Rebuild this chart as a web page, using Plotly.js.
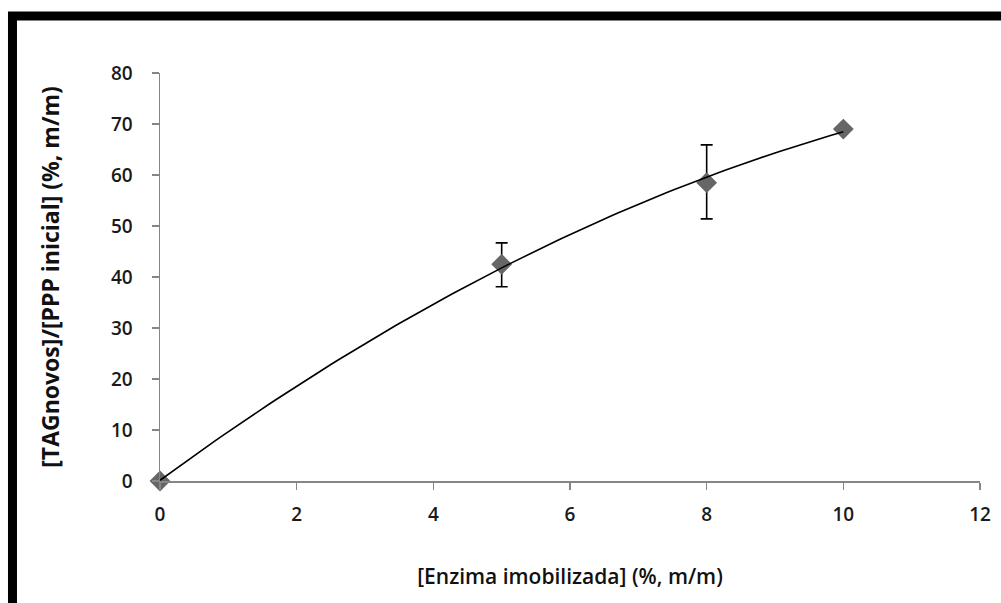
<!DOCTYPE html>
<html>
<head>
<meta charset="utf-8">
<script src="https://cdn.plot.ly/plotly-3.0.1.min.js"></script>
<style>
html,body{margin:0;padding:0;background:#fff;}
#chart{width:1001px;height:603px;}
</style>
</head>
<body>
<div id="chart"></div>
<script>
// Data
const enzima = [0, 5, 8, 10];
const tagRatio = [0, 42.5, 58.5, 69];
const errorPlus = [null, 4.2, 7.4, null];
const errorMinus = [null, 4.4, 7.1, null];
const xTickVals = [0, 2, 4, 6, 8, 10, 12];
const yTickVals = [0, 10, 20, 30, 40, 50, 60, 70, 80];
const xTitle = "[Enzima imobilizada] (%, m/m)";
const yTitle = "[TAGnovos]/[PPP inicial] (%, m/m)";

// Quadratic least-squares trendline (like the spreadsheet's polynomial trendline)
function polyFit2(xs, ys) {
  let S = [[0,0,0],[0,0,0],[0,0,0]], T = [0,0,0];
  for (let i = 0; i < xs.length; i++) {
    const p = [1, xs[i], xs[i]*xs[i]];
    for (let r = 0; r < 3; r++) {
      T[r] += p[r]*ys[i];
      for (let c = 0; c < 3; c++) S[r][c] += p[r]*p[c];
    }
  }
  const A = S.map((row, i) => row.concat([T[i]]));
  for (let i = 0; i < 3; i++) {
    let m = i;
    for (let k = i+1; k < 3; k++) if (Math.abs(A[k][i]) > Math.abs(A[m][i])) m = k;
    [A[i], A[m]] = [A[m], A[i]];
    for (let k = i+1; k < 3; k++) {
      const f = A[k][i]/A[i][i];
      for (let c = i; c < 4; c++) A[k][c] -= f*A[i][c];
    }
  }
  const coef = [0,0,0];
  for (let i = 2; i >= 0; i--) {
    let s = A[i][3];
    for (let c = i+1; c < 3; c++) s -= A[i][c]*coef[c];
    coef[i] = s/A[i][i];
  }
  return coef;
}
const cf = polyFit2(enzima, tagRatio);
const fitX = [], fitY = [];
const xmin = Math.min(...enzima), xmax = Math.max(...enzima);
for (let i = 0; i <= 100; i++) {
  const x = xmin + (xmax - xmin) * i / 100;
  fitX.push(x);
  fitY.push(cf[0] + cf[1]*x + cf[2]*x*x);
}

const traces = [
  {
    x: enzima, y: tagRatio, type: 'scatter', mode: 'markers',
    marker: {symbol: 'diamond', size: 16, color: '#666666'},
    error_y: {type: 'data', symmetric: false, array: errorPlus, arrayminus: errorMinus,
              color: '#000000', thickness: 1.6, width: 6},
    cliponaxis: false, hoverinfo: 'skip'
  },
  {
    x: fitX, y: fitY, type: 'scatter', mode: 'lines',
    line: {color: '#000000', width: 1.6},
    cliponaxis: false, hoverinfo: 'skip'
  }
];

const fam = 'Open Sans, Noto Sans, sans-serif';
const tickFont = {family: fam, size: 19, color: '#1a1a1a', weight: 600};

const layout = {
  width: 1001, height: 603,
  margin: {l: 160, r: 21, t: 73, b: 122},
  paper_bgcolor: '#ffffff', plot_bgcolor: '#ffffff',
  showlegend: false,
  xaxis: {
    range: [0, 12], tickvals: xTickVals, ticktext: xTickVals.map(String),
    showgrid: false, zeroline: false, showline: true, linecolor: '#868686', linewidth: 1.5,
    ticks: 'outside', ticklen: 7, tickcolor: '#868686', tickwidth: 1.5,
    ticklabelstandoff: 9,
    tickfont: tickFont,
    title: {text: xTitle, font: {family: fam, size: 21, color: '#111111', weight: 600}, standoff: 43}
  },
  yaxis: {
    range: [0, 80], tickvals: yTickVals, ticktext: yTickVals.map(String),
    showgrid: false, zeroline: false, showline: true, linecolor: '#868686', linewidth: 1.5,
    ticks: 'outside', ticklen: 7, tickcolor: '#868686', tickwidth: 1.5,
    ticklabelstandoff: 15,
    tickfont: tickFont,
    title: {text: yTitle, font: {family: fam, size: 23, color: '#111111', weight: 700}, standoff: 45}
  },
  shapes: [
    {type: 'rect', xref: 'paper', yref: 'paper',
     x0: -0.1799, x1: 1.5, y0: -0.8, y1: 1.1397,
     line: {color: '#000000', width: 9}, fillcolor: 'rgba(0,0,0,0)', layer: 'above'}
  ]
};

Plotly.newPlot('chart', traces, layout, {staticPlot: true, displayModeBar: false});
</script>
</body>
</html>
